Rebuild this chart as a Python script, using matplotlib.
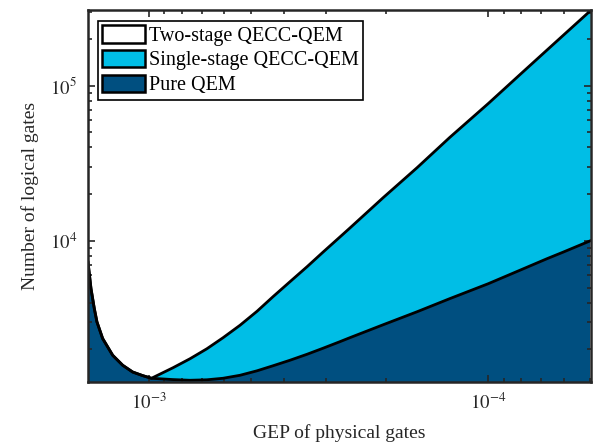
import numpy as np
import matplotlib
matplotlib.use("Agg")
import matplotlib.pyplot as plt
from matplotlib.patches import Patch
from matplotlib.ticker import LogLocator, FixedLocator, NullFormatter

plt.rcParams['font.family'] = ['Liberation Serif', 'DejaVu Serif']
plt.rcParams['mathtext.fontset'] = 'stix'

# GEP of physical gates
gep = [1.512e-3, 1.482e-3, 1.449e-3, 1.423e-3, 1.369e-3, 1.279e-3, 1.195e-3,
       1.117e-3, 1.044e-3, 9.83e-4, 8.50e-4, 7.57e-4, 6.75e-4, 6.05e-4, 5.39e-4,
       4.80e-4, 4.31e-4, 3.84e-4, 3.42e-4, 3.07e-4, 2.74e-4, 2.56e-4, 2.04e-4,
       1.62e-4, 1.30e-4, 1.00e-4, 8.06e-5, 6.71e-5, 6.02e-5, 5.01e-5]
# upper boundary (single-stage / two-stage)
upper = [7289, 4932, 3664, 3002, 2346, 1830, 1578,
         1428, 1354, 1301, 1520, 1738, 2016, 2374, 2858,
         3520, 4365, 5455, 6814, 8455, 10565, 12076, 19000,
         29670, 46340, 76780, 118100, 169990, 210800, 303300]
# lower boundary (pure QEM / single-stage)
lower = [7289, 4932, 3664, 3002, 2346, 1830, 1578,
         1428, 1354, 1301, 1276, 1263, 1272, 1301, 1360,
         1454, 1566, 1700, 1858, 2031, 2237, 2374, 2880,
         3494, 4238, 5295, 6471, 7678, 8455, 10000]

labels = ['Two-stage QECC-QEM', 'Single-stage QECC-QEM', 'Pure QEM']
xtick_vals = [1e-3, 1e-4]
xtick_labels = [r'$10^{-3}$', r'$10^{-4}$']
ytick_vals = [1e4, 1e5]
ytick_labels = [r'$10^{4}$', r'$10^{5}$']

c_dark = '#004F80'
c_cyan = '#00BEE6'
c_axis = '#262626'

fig = plt.figure(figsize=(5.96, 4.43), dpi=100)
ax = fig.add_axes([0.1477, 0.1377, 0.8439, 0.8397])

ax.set_xscale('log')
ax.set_yscale('log')

ax.fill_between(gep, 1, lower, color=c_dark, linewidth=0)
ax.fill_between(gep, lower, upper, color=c_cyan, linewidth=0)
ax.plot(gep, upper, color='black', lw=2.0, solid_joinstyle='round')
ax.plot(gep, lower, color='black', lw=2.0, solid_joinstyle='round')

ax.set_xlim(1.512e-3, 4.98e-5)
ax.set_ylim(1231, 3.078e5)

ax.xaxis.set_major_locator(FixedLocator(xtick_vals))
ax.set_xticklabels(xtick_labels)
ax.yaxis.set_major_locator(FixedLocator(ytick_vals))
ax.set_yticklabels(ytick_labels)
ax.xaxis.set_minor_locator(LogLocator(base=10, subs=np.arange(2, 10)))
ax.yaxis.set_minor_locator(LogLocator(base=10, subs=np.arange(2, 10)))
ax.xaxis.set_minor_formatter(NullFormatter())
ax.yaxis.set_minor_formatter(NullFormatter())

ax.tick_params(which='both', direction='in', top=True, right=True, colors=c_axis,
               labelsize=13.5, width=1.2)
ax.tick_params(which='major', length=5, pad=8)
ax.tick_params(which='minor', length=3)
for s in ax.spines.values():
    s.set_color(c_axis)
    s.set_linewidth(1.8)
    s.set_zorder(5)

ax.set_xlabel('GEP of physical gates', fontsize=14, color=c_axis, labelpad=8)
ax.set_ylabel('Number of logical gates', fontsize=14, color=c_axis, labelpad=8)

handles = [Patch(facecolor='white', edgecolor='black', lw=1.8),
           Patch(facecolor=c_cyan, edgecolor='black', lw=1.8),
           Patch(facecolor=c_dark, edgecolor='black', lw=1.8)]
leg = ax.legend(handles, labels, loc='upper left', bbox_to_anchor=(0.0199, 0.971),
                borderaxespad=0, fontsize=14.5, handlelength=2.1, handleheight=0.95,
                handletextpad=0.2, labelspacing=0.2, borderpad=0.22,
                fancybox=False, framealpha=1, edgecolor='black')
leg.get_frame().set_linewidth(1.2)

fig.savefig('out.png', dpi=100)
